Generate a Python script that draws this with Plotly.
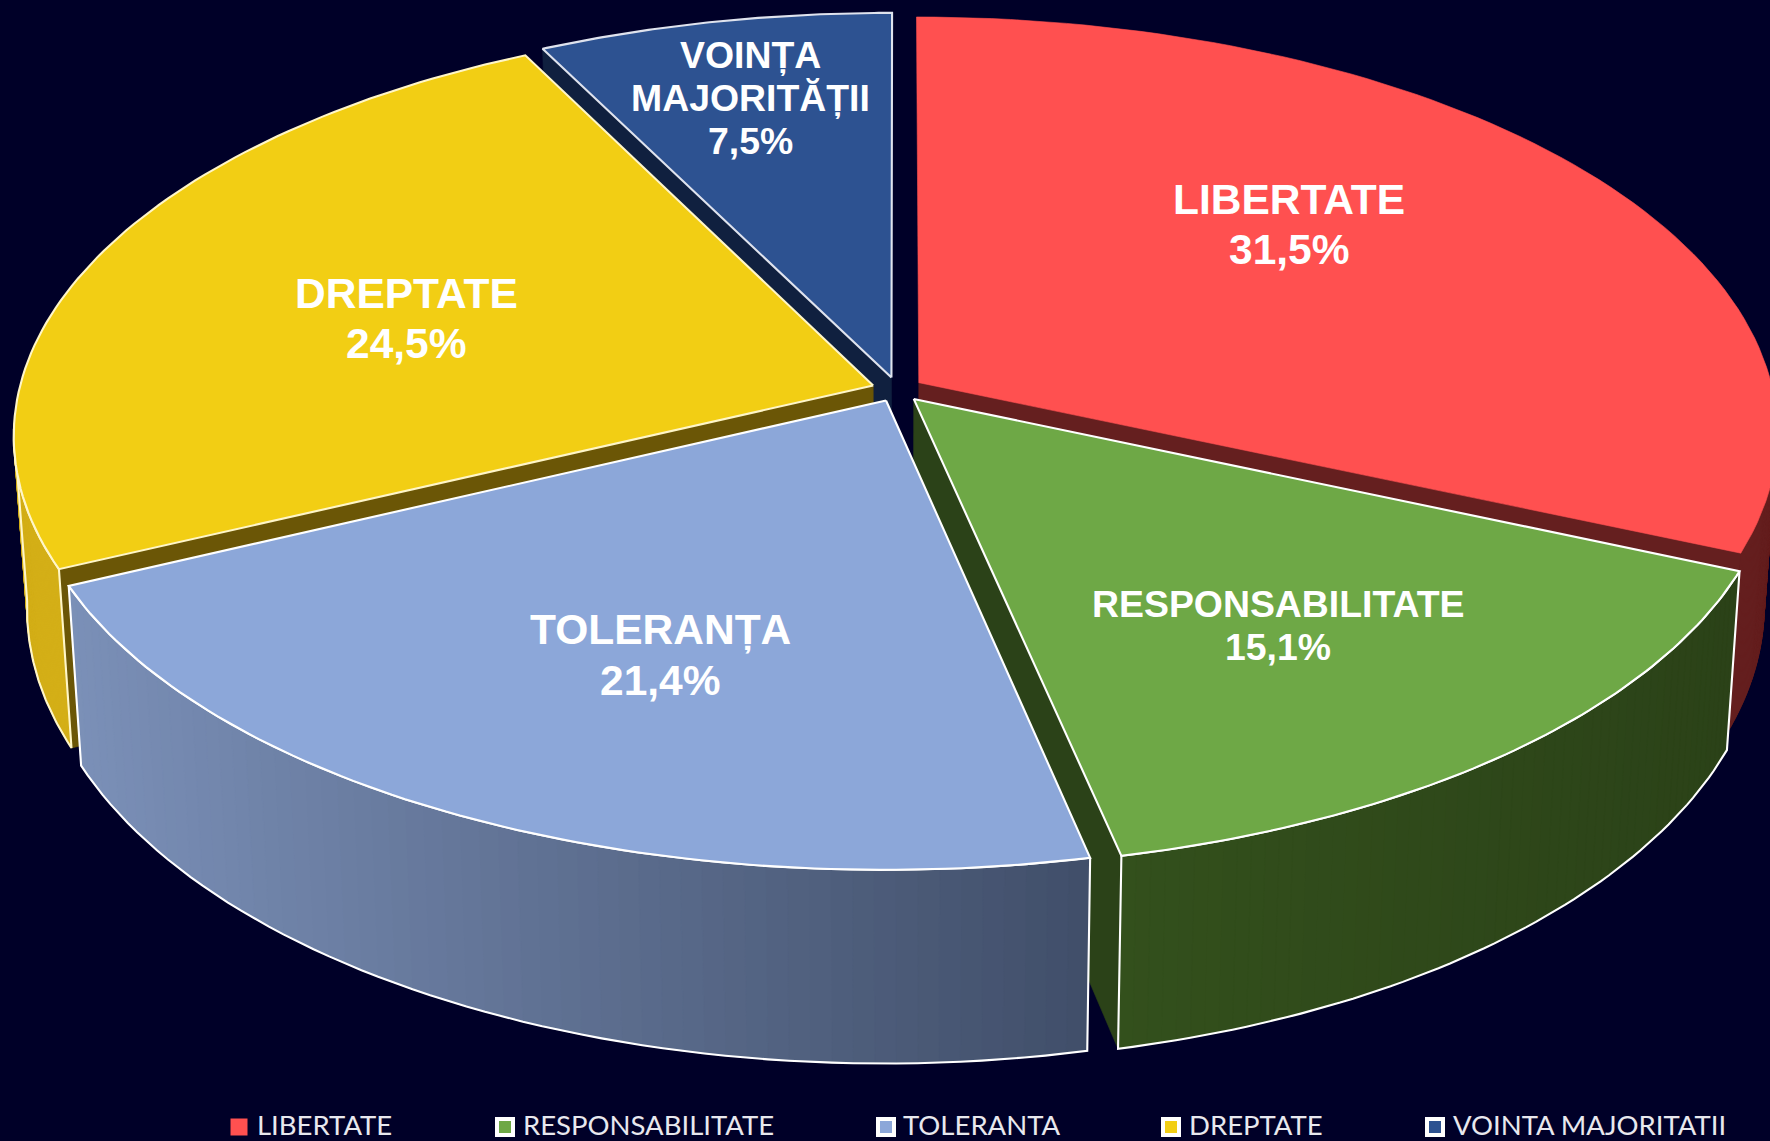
import math
import plotly.graph_objects as go

# ---- data ----
categories = ["LIBERTATE", "RESPONSABILITATE", "TOLERANTA", "DREPTATE", "VOINTA MAJORITATII"]
values = [31.5, 15.1, 21.4, 24.5, 7.5]
label_lines = [["LIBERTATE", "31,5%"], ["RESPONSABILITATE", "15,1%"], ["TOLERANȚA", "21,4%"],
               ["DREPTATE", "24,5%"], ["VOINȚA", "MAJORITĂȚII", "7,5%"]]
top_colors = ["#ff5050", "#6ea846", "#8ca7d9", "#f2ce14", "#2d5291"]
cut_colors = ["#651f1f", "#2b4218", None, "#6b5606", "#10203f"]
wall_left = ["#651f1f", "#33501c", "#7b90b8", "#d4af17", None]
wall_right = ["#651f1f", "#2b4218", "#414f6a", "#d4af17", None]
outline = [None, "#ffffff", "#ffffff", "#fff6c8", "#dfe3ee"]
label_sizes = [42.5, 37.4, 42.5, 42.5, 37.4]
label_centres = [(1289, 224), (1278, 625), (660, 655), (406, 318), (750, 98)]
label_gaps = [50, 43, 50, 50, 43]
legend_key_x = [239, 505, 886, 1171, 1435]
legend_text_x = [255, 521, 901, 1187, 1451]
legend_key_y = 1127
legend_text_y = 1124

# ---- projection of the tilted disc ----
BG = "#000028"
CX, CY, A, B, K, H0, S, EXPLODE = 897.4, 389.4, 854, 410.7, 0.119, 170, 0.985, 0.03
W, HT = 1770, 1141


def project(u, v, lower=False):
    w = 1 + K * v
    x = CX + A * u / w
    y = CY - B * v / w
    if lower:
        x = CX + S * (x - CX)
        y = y + H0 / w
    return x, y


def hexrgb(c):
    return tuple(int(c[i:i + 2], 16) for i in (1, 3, 5))


def mix(a, b, t):
    ra, rb = hexrgb(a), hexrgb(b)
    return "rgb(%d,%d,%d)" % tuple(round(p + (q - p) * t) for p, q in zip(ra, rb))


fig = go.Figure()


def poly(points, fill, line=None, width=2.1):
    xs = [p[0] for p in points] + [points[0][0]]
    ys = [p[1] for p in points] + [points[0][1]]
    fig.add_trace(go.Scatter(
        x=xs, y=ys, mode="lines", fill="toself", fillcolor=fill,
        line=dict(color=line or fill, width=width if line else 0.6),
        hoverinfo="skip", showlegend=False))


# angular spans from the values
spans = []
acc = 0.0
total = sum(values)
for val in values:
    spans.append((acc, acc + val / total * 360))
    acc += val / total * 360


def slice_geometry(i):
    a0, a1 = spans[i]
    mid = math.radians((a0 + a1) / 2)
    ou, ov = EXPLODE * math.sin(mid), EXPLODE * math.cos(mid)

    def rim(deg, lower=False):
        r = math.radians(deg)
        return project(ou + math.sin(r), ov + math.cos(r), lower)

    apex = project(ou, ov)
    apex_low = project(ou, ov, True)
    return a0, a1, rim, apex, apex_low


def arc_degs(a0, a1, n):
    return [a0 + (a1 - a0) * j / n for j in range(n + 1)]


# which radial face shows, per slice: 'end', 'start' or None
visible_face = ["end", "end", None, "start", "start"]
wall_from = [95, None, None, None, None]
wall_to = [None, None, None, 264, None]

for i in [4, 0, 3, 1, 2]:
    a0, a1, rim, apex, apex_low = slice_geometry(i)
    if visible_face[i]:
        e = a1 if visible_face[i] == "end" else a0
        poly([apex, rim(e), rim(e, True), apex_low], cut_colors[i])
    if wall_left[i]:
        wa0 = wall_from[i] if wall_from[i] is not None else a0
        wa1 = wall_to[i] if wall_to[i] is not None else a1
        degs = arc_degs(wa0, wa1, 60)
        # shaded bands: colour runs across the wall, from its left to its right
        for j in range(60):
            d0, d1 = degs[j], degs[min(j + 2, 60)]
            t = (rim(degs[j])[0] - min(rim(wa0)[0], rim(wa1)[0])) / max(1, abs(rim(wa1)[0] - rim(wa0)[0]))
            poly([rim(d0), rim(d1), rim(d1, True), rim(d0, True)], mix(wall_left[i], wall_right[i], t))
        if outline[i]:
            pts = [rim(d) for d in degs] + [rim(d, True) for d in reversed(degs)]
            fig.add_trace(go.Scatter(
                x=[p[0] for p in pts] + [pts[0][0]], y=[p[1] for p in pts] + [pts[0][1]],
                mode="lines", line=dict(color=outline[i], width=2.1),
                hoverinfo="skip", showlegend=False))
    top = [apex] + [rim(d) for d in arc_degs(a0, a1, 80)]
    poly(top, top_colors[i], outline[i])

# slice labels
for lines, (lx, ly), size, gap in zip(label_lines, label_centres, label_sizes, label_gaps):
    for n, line in enumerate(lines):
        fig.add_annotation(
            x=lx, y=ly + (n - (len(lines) - 1) / 2) * gap, text="<b>%s</b>" % line, showarrow=False,
            xref="x", yref="y", xanchor="center", yanchor="middle",
            font=dict(family="Liberation Sans", size=size, color="#ffffff"))

# legend row
for i, cat in enumerate(categories):
    plain = i == 0
    fig.add_trace(go.Scatter(
        x=[legend_key_x[i]], y=[legend_key_y], mode="markers", hoverinfo="skip", showlegend=False,
        marker=dict(symbol="square", size=17 if plain else 16, color=top_colors[i],
                    line=dict(color=top_colors[i] if plain else "#ffffff", width=0 if plain else 4))))
    fig.add_annotation(
        x=legend_text_x[i], y=legend_text_y, text=cat, showarrow=False, xref="x", yref="y",
        xanchor="left", yanchor="middle",
        font=dict(family="Lato", size=27.5, color="#e8e8ee"))

fig.update_layout(
    width=W, height=HT, margin=dict(l=0, r=0, t=0, b=0),
    paper_bgcolor=BG, plot_bgcolor=BG, showlegend=False,
    xaxis=dict(range=[0, W], visible=False, fixedrange=True),
    yaxis=dict(range=[HT, 0], visible=False, fixedrange=True),
)
fig.write_html("out.html", config={"displayModeBar": False},
               post_script="document.body.style.margin='0';document.body.style.overflow='hidden';document.body.style.background='%s';" % BG)
